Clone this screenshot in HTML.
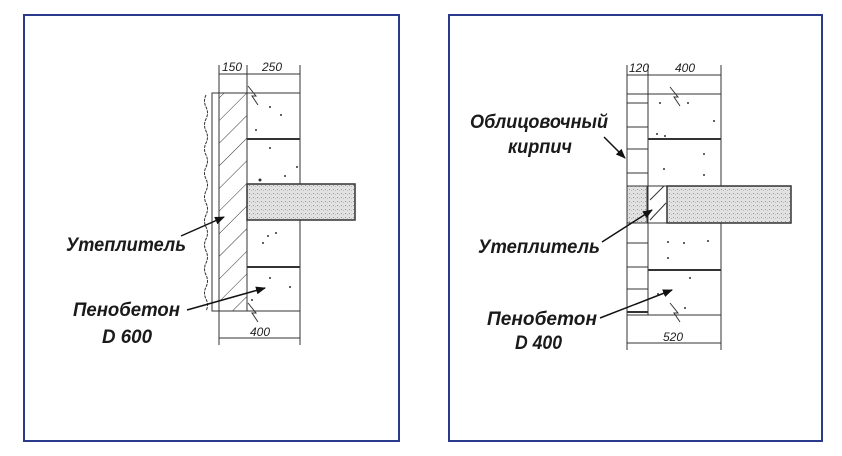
<!DOCTYPE html>
<html><head><meta charset="utf-8"><style>
html,body{margin:0;padding:0;background:#fff;}
svg{display:block;}
text{font-family:"Liberation Sans",sans-serif;font-style:italic;font-weight:bold;font-size:19px;fill:#1a1a1a;}
.d{font-size:12px;font-style:italic;font-weight:normal;fill:#222;}
</style></head><body>
<svg width="842" height="456" viewBox="0 0 842 456" xmlns="http://www.w3.org/2000/svg">
<defs>
<pattern id="hat" width="16" height="16" patternUnits="userSpaceOnUse" patternTransform="rotate(45)">
<line x1="0" y1="0" x2="0" y2="16" stroke="#333" stroke-width="1"/></pattern>
<pattern id="dots" width="4" height="4" patternUnits="userSpaceOnUse">
<rect width="4" height="4" fill="#e2e2e2"/><rect x="1" y="1" width="1" height="1" fill="#999"/><rect x="3" y="2" width="1" height="1" fill="#bbb"/></pattern>
<marker id="ar" markerWidth="10" markerHeight="8" refX="9" refY="4" orient="auto" markerUnits="userSpaceOnUse"><path d="M0,0 L10,4 L0,8 Z" fill="#111"/></marker>
</defs>
<rect x="24" y="15" width="375" height="426" fill="none" stroke="#2a3a8c" stroke-width="2"/>
<rect x="449" y="15" width="373" height="426" fill="none" stroke="#2a3a8c" stroke-width="2"/>

<!-- LEFT -->
<g stroke="#333" stroke-width="1" fill="none">
<line x1="219" y1="65" x2="219" y2="345"/><line x1="247" y1="65" x2="247" y2="93"/><line x1="300" y1="65" x2="300" y2="345"/>
<line x1="219" y1="74" x2="300" y2="74"/><line x1="219" y1="338" x2="300" y2="338"/>
<rect x="219" y="93" width="28" height="218" fill="url(#hat)"/>
<rect x="212" y="93" width="7" height="218"/>
<path d="M206,95 q-3,6 0,12 q3,6 0,12 q-3,6 0,12 q3,6 0,12 q-3,6 0,12 q3,6 0,12 q-3,6 0,12 q3,6 0,12 q-3,6 0,12 q3,6 0,12 q-3,6 0,12 q3,6 0,12 q-3,6 0,12 q3,6 0,12 q-3,6 0,12 q3,6 0,12 q-3,6 0,12 q3,6 0,12" stroke-dasharray="3,1"/>
<line x1="247" y1="93" x2="300" y2="93"/><line x1="247" y1="311" x2="300" y2="311"/>
<line x1="247" y1="93" x2="247" y2="311"/>
<line x1="247" y1="139" x2="300" y2="139" stroke-width="2"/><line x1="247" y1="267" x2="300" y2="267" stroke-width="2"/>
<rect x="247" y="184" width="108" height="36" fill="url(#dots)" stroke-width="1.5"/>
<path d="M248,86 l8,10 l-4,0 l6,9"/><path d="M248,303 l8,10 l-4,0 l6,9"/>
</g>
<text class="d" x="222" y="71">150</text><text class="d" x="262" y="71">250</text><text class="d" x="250" y="336">400</text>
<g fill="#333"><circle cx="270" cy="107" r="1"/><circle cx="281" cy="115" r="1"/><circle cx="256" cy="130" r="1"/><circle cx="270" cy="148" r="1"/><circle cx="297" cy="167" r="1"/><circle cx="285" cy="176" r="1"/><circle cx="260" cy="180" r="1.5"/><circle cx="268" cy="236" r="1"/><circle cx="276" cy="233" r="1"/><circle cx="263" cy="243" r="1"/><circle cx="270" cy="278" r="1"/><circle cx="290" cy="287" r="1"/><circle cx="252" cy="300" r="1"/></g>
<line x1="181" y1="236" x2="224" y2="217" stroke="#111" stroke-width="1.5" marker-end="url(#ar)"/>
<line x1="187" y1="310" x2="265" y2="288" stroke="#111" stroke-width="1.5" marker-end="url(#ar)"/>
<text x="66" y="251" textLength="120" lengthAdjust="spacingAndGlyphs">Утеплитель</text>
<text x="73" y="316" textLength="107" lengthAdjust="spacingAndGlyphs">Пенобетон</text>
<text x="102" y="343" textLength="50" lengthAdjust="spacingAndGlyphs">D 600</text>

<!-- RIGHT -->
<g stroke="#333" stroke-width="1" fill="none">
<line x1="627" y1="65" x2="627" y2="350"/><line x1="648" y1="65" x2="648" y2="94"/><line x1="721" y1="65" x2="721" y2="350"/>
<line x1="627" y1="75" x2="721" y2="75"/><line x1="627" y1="343" x2="721" y2="343"/>
<line x1="627" y1="94" x2="648" y2="94"/>
<line x1="627" y1="103" x2="648" y2="103"/><line x1="627" y1="127" x2="648" y2="127"/><line x1="627" y1="149" x2="648" y2="149"/><line x1="627" y1="173" x2="648" y2="173"/>
<line x1="627" y1="243" x2="648" y2="243"/><line x1="627" y1="267" x2="648" y2="267"/><line x1="627" y1="289" x2="648" y2="289"/><line x1="627" y1="312" x2="648" y2="312" stroke-width="2"/>
<line x1="627" y1="315" x2="721" y2="315"/>
<line x1="648" y1="94" x2="721" y2="94"/><line x1="648" y1="94" x2="648" y2="315"/>
<line x1="648" y1="139" x2="721" y2="139" stroke-width="2"/><line x1="648" y1="270" x2="721" y2="270" stroke-width="2"/>
<rect x="627" y="186" width="20" height="37" fill="url(#dots)"/>
<rect x="667" y="186" width="124" height="37" fill="url(#dots)" stroke-width="1.5"/>
<line x1="627" y1="186" x2="667" y2="186"/><line x1="627" y1="223" x2="667" y2="223"/>
<line x1="650" y1="200" x2="664" y2="186"/><line x1="650" y1="220" x2="666" y2="203"/>
<path d="M670,87 l8,10 l-4,0 l6,9"/><path d="M670,303 l8,10 l-4,0 l6,9"/>
</g>
<text class="d" x="629" y="72">120</text><text class="d" x="675" y="72">400</text><text class="d" x="663" y="341">520</text>
<g fill="#333"><circle cx="660" cy="103" r="1"/><circle cx="688" cy="103" r="1"/><circle cx="714" cy="121" r="1"/><circle cx="657" cy="134" r="1"/><circle cx="665" cy="136" r="1"/><circle cx="704" cy="154" r="1"/><circle cx="664" cy="169" r="1"/><circle cx="704" cy="175" r="1"/><circle cx="668" cy="242" r="1"/><circle cx="684" cy="243" r="1"/><circle cx="708" cy="241" r="1"/><circle cx="668" cy="258" r="1"/><circle cx="690" cy="278" r="1"/><circle cx="658" cy="294" r="1"/><circle cx="685" cy="308" r="1"/></g>
<line x1="604" y1="137" x2="625" y2="158" stroke="#111" stroke-width="1.5" marker-end="url(#ar)"/>
<line x1="602" y1="242" x2="652" y2="210" stroke="#111" stroke-width="1.5" marker-end="url(#ar)"/>
<line x1="600" y1="318" x2="672" y2="290" stroke="#111" stroke-width="1.5" marker-end="url(#ar)"/>
<text x="470" y="128" textLength="138" lengthAdjust="spacingAndGlyphs">Облицовочный</text>
<text x="508" y="153" textLength="64" lengthAdjust="spacingAndGlyphs">кирпич</text>
<text x="478" y="253" textLength="122" lengthAdjust="spacingAndGlyphs">Утеплитель</text>
<text x="487" y="325" textLength="110" lengthAdjust="spacingAndGlyphs">Пенобетон</text>
<text x="515" y="349" textLength="47" lengthAdjust="spacingAndGlyphs">D 400</text>
</svg>
</body></html>
